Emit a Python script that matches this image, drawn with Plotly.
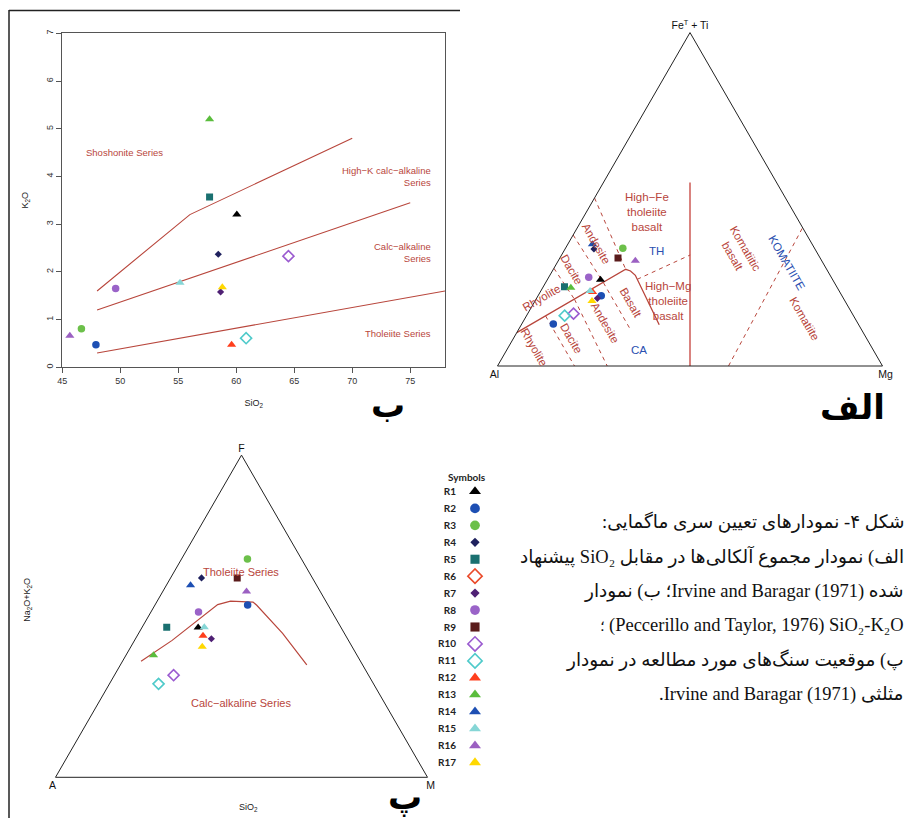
import math
import plotly.graph_objects as go

W, H = 913, 818

# ---------------- data ----------------
samples = ["R1", "R2", "R3", "R4", "R5", "R6", "R7", "R8", "R9",
           "R10", "R11", "R12", "R13", "R14", "R15", "R16", "R17"]

# Panel (ب): SiO2 - K2O  (None = not plotted)
k2o_sio2 = [60.05, 47.9, 46.65, 58.45, 57.7, None, 58.65, 49.6, None,
            64.5, 60.85, 59.6, 57.7, None, 55.15, 45.65, 58.8]
k2o_k2o = [3.2, 0.47, 0.81, 2.37, 3.57, None, 1.58, 1.65, None,
           2.33, 0.61, 0.47, 5.2, None, 1.77, 0.66, 1.68]

# Boundary lines (Peccerillo & Taylor)
shosh_sio2 = [48, 56, 70]
shosh_k2o = [1.6, 3.2, 4.8]
hik_sio2 = [48, 75]
hik_k2o = [1.2, 3.45]
thol_sio2 = [48, 78]
thol_k2o = [0.3, 1.6]

# Panel (الف): Jensen cation plot, %  (FeT+Ti, Al, Mg)
jensen_sample = ["R1", "R2", "R2", "R3", "R4", "R5", "R7", "R8", "R9",
                 "R10", "R11", "R12", "R13", "R14", "R15", "R16", "R17"]
jensen_fe = [25.9, 21.1, 12.6, 35.3, 35.1, 23.8, 20.3, 26.6, 32.4,
             15.7, 15.1, 22.2, 23.5, 36.5, 22.5, 31.6, 19.5]
jensen_al = [60.3, 62.5, 79.2, 49.8, 57.4, 70.7, 63.9, 63.0, 52.5,
             72.4, 75.0, 64.2, 69.2, 57.1, 64.7, 48.4, 65.7]
jensen_mg = [13.8, 16.4, 8.2, 14.9, 7.5, 5.5, 15.8, 10.4, 15.1,
             11.9, 9.9, 13.6, 7.3, 6.4, 12.8, 20.0, 14.8]

# Jensen field boundaries
j_thca_fe = [10.0, 29.0, 28.5, 27.2, 12.4]
j_thca_al = [90.0, 52.2, 51.2, 50.6, 51.8]
j_thca_mg = [0.0, 18.8, 20.3, 22.2, 35.8]
j_vert_fe = [0.0, 55.0]
j_vert_al = [50.0, 22.5]
j_vert_mg = [50.0, 22.5]
j_dash_fe = [29.3, 20.0, None, 39.3, 25.0, None, 50.4, 29.0, None,
             15.0, 0.0, None, 20.0, 0.0, None, 25.0, 10.5, None,
             26.0, 33.3, None, 0.0, 41.5]
j_dash_al = [70.7, 70.0, None, 60.7, 60.0, None, 49.6, 52.2, None,
             80.0, 80.0, None, 70.0, 71.5, None, 60.0, 60.0, None,
             50.7, 33.3, None, 40.0, 0.0]
j_dash_mg = [0.0, 10.0, None, 0.0, 15.0, None, 0.0, 18.8, None,
             5.0, 20.0, None, 10.0, 28.5, None, 15.0, 29.5, None,
             23.3, 33.4, None, 60.0, 58.5]

# Panel (پ): AFM, %  (F, A, M)
afm_f = [46.5, 53.5, 67.8, 61.9, 46.6, None, 43.0, 51.3, 61.9,
         31.7, 29.0, 43.9, 37.9, 59.6, 46.6, 57.7, 40.5]
afm_a = [38.4, 21.6, 14.5, 29.8, 46.8, None, 36.6, 35.9, 20.2,
         52.4, 57.8, 38.4, 54.7, 33.9, 36.7, 19.8, 40.3]
afm_m = [15.1, 24.9, 17.7, 8.3, 6.6, None, 20.4, 12.8, 17.9,
         15.9, 13.2, 17.7, 7.4, 6.5, 16.7, 22.5, 19.2]

afm_line_f = [36.0, 42.5, 53.6, 54.7, 54.4, 53.4, 44.7, 34.9]
afm_line_a = [59.0, 47.4, 29.6, 25.6, 19.7, 19.2, 16.6, 15.0]
afm_line_m = [5.0, 10.1, 16.8, 19.7, 25.9, 27.4, 38.7, 50.1]

xticks_sio2 = [45, 50, 55, 60, 65, 70, 75]
yticks_k2o = [0, 1, 2, 3, 4, 5, 6, 7]

# caption lines: (text, right-to-left paragraph?)
caption_lines = [
    ("شکل ۴- نمودارهای تعیین سری ماگمایی:", True),
    ("الف) نمودار مجموع آلکالی‌ها در مقابل SiO₂ پیشنهاد", True),
    ("شده Irvine and Baragar (1971)؛ ب) نمودار", True),
    ("(Peccerillo and Taylor, 1976) SiO₂-K₂O", False),
    ("پ) موقعیت سنگ‌های مورد مطالعه در نمودار", True),
    ("مثلثی Irvine and Baragar (1971)\u200e.", True),
]
caption_line4_end = "؛"

# ---------------- styles ----------------
STYLE = {
    "R1": ("triangle-up", "#000000", 8),
    "R2": ("circle", "#1d4fb3", 7.5),
    "R3": ("circle", "#6cc04a", 7.5),
    "R4": ("diamond", "#1f215e", 5.5),
    "R5": ("square", "#1a7070", 7),
    "R6": ("diamond-open", "#ea4a2a", 8.5),
    "R7": ("diamond", "#4f2074", 5.5),
    "R8": ("circle", "#9a63c8", 7.5),
    "R9": ("square", "#5a1b1b", 7),
    "R10": ("diamond-open", "#9b5bd0", 8.5),
    "R11": ("diamond-open", "#4fcaca", 8.5),
    "R12": ("triangle-up", "#ff3e1c", 8),
    "R13": ("triangle-up", "#5abd3c", 8),
    "R14": ("triangle-up", "#1d4fb3", 8),
    "R15": ("triangle-up", "#86d6d6", 8),
    "R16": ("triangle-up", "#9b60c2", 8),
    "R17": ("triangle-up", "#ffd800", 8),
}
RED = "#b8463c"
BLUE = "#2a4fb0"
SANS = "Liberation Sans, Arial, sans-serif"


def mk(name, scale=1.0):
    sym, col, size = STYLE[name]
    m = dict(symbol=sym, color=col, size=size * scale)
    if sym.endswith("open"):
        m["line"] = dict(width=1.6, color=col)
    else:
        m["line"] = dict(width=0)
    return m


def px(x, y):
    return x / W, 1 - y / H


fig = go.Figure()

# ---------- panel ب : SiO2-K2O ----------
for xs, ys in [(shosh_sio2, shosh_k2o), (hik_sio2, hik_k2o), (thol_sio2, thol_k2o)]:
    fig.add_trace(go.Scatter(x=xs, y=ys, mode="lines", line=dict(color=RED, width=1.1),
                             hoverinfo="skip", showlegend=False, xaxis="x", yaxis="y"))
for s, xv, yv in zip(samples, k2o_sio2, k2o_k2o):
    if xv is None:
        continue
    fig.add_trace(go.Scatter(x=[xv], y=[yv], mode="markers", marker=mk(s), name=s,
                             showlegend=False, xaxis="x", yaxis="y"))

# ---------- panel الف : Jensen ----------
fig.add_trace(go.Scatterternary(a=j_thca_fe, b=j_thca_al, c=j_thca_mg, mode="lines",
                                line=dict(color=RED, width=1.3), subplot="ternary", showlegend=False))
fig.add_trace(go.Scatterternary(a=j_vert_fe, b=j_vert_al, c=j_vert_mg, mode="lines",
                                line=dict(color="#cc5a55", width=1.5), subplot="ternary", showlegend=False))
fig.add_trace(go.Scatterternary(a=j_dash_fe, b=j_dash_al, c=j_dash_mg, mode="lines",
                                line=dict(color=RED, width=1, dash="4px,4px"), connectgaps=False,
                                subplot="ternary", showlegend=False))
for s, fe, al, mg in zip(jensen_sample, jensen_fe, jensen_al, jensen_mg):
    fig.add_trace(go.Scatterternary(a=[fe], b=[al], c=[mg], mode="markers", marker=mk(s),
                                    subplot="ternary", showlegend=False, name=s))

# ---------- panel پ : AFM ----------
fig.add_trace(go.Scatterternary(a=afm_line_f, b=afm_line_a, c=afm_line_m, mode="lines",
                                line=dict(color=RED, width=1.2), subplot="ternary2", showlegend=False))
for s, f, a, m in zip(samples, afm_f, afm_a, afm_m):
    if f is None:
        continue
    fig.add_trace(go.Scatterternary(a=[f], b=[a], c=[m], mode="markers", marker=mk(s),
                                    subplot="ternary2", showlegend=False, name=s))

# ---------- symbols key ----------
for s in samples:
    fig.add_trace(go.Scatter(x=[0], y=[s], mode="markers", marker=mk(s, 1.3),
                             xaxis="x2", yaxis="y2", showlegend=False))

# ---------------- layout ----------------
axis_common = dict(showline=True, linecolor="#555", linewidth=1, mirror=True, ticks="outside",
                   ticklen=5, tickcolor="#555", showgrid=False, zeroline=False,
                   tickfont=dict(family=SANS, size=9, color="#333"))

# ternary geometry (equilateral, fitted in domain)
T1 = dict(x0=497.5, yb=366.0, s=385.0)
T2 = dict(x0=55.5, yb=777.3, s=372.0)


def tern_domain(t):
    h = t["s"] * math.sqrt(3) / 2
    ytop, ybot = t["yb"] - h - 3, t["yb"] + 3
    return dict(x=[t["x0"] / W, (t["x0"] + t["s"]) / W], y=[1 - ybot / H, 1 - ytop / H])


def tern_pos(t, a, b, c):
    tot = a + b + c
    a, b, c = a / tot, b / tot, c / tot
    x = t["x0"] + t["s"] * (c + a / 2)
    y = t["yb"] - t["s"] * math.sqrt(3) / 2 * a
    return px(x, y)


def tern_axis(title, size):
    return dict(title=dict(text=title, font=dict(family=SANS, size=size, color="#111")),
                showticklabels=False, showgrid=False, ticks="", linecolor="#222",
                linewidth=1, showline=True, min=0)


layout = dict(
    width=W, height=H, margin=dict(l=0, r=0, t=0, b=0),
    paper_bgcolor="white", plot_bgcolor="white", template="none", showlegend=False,
    xaxis=dict(domain=[62.3 / W, 445 / W], range=[45, 78], tickvals=xticks_sio2, anchor="y",
               title=dict(text="SiO<sub>2</sub>", font=dict(family=SANS, size=9, color="#222"), standoff=14),
               **axis_common),
    yaxis=dict(domain=[1 - 367.3 / H, 1 - 33.3 / H], range=[0, 7], tickvals=yticks_k2o, tickangle=-90,
               anchor="x",
               title=dict(text="K<sub>2</sub>O", font=dict(family=SANS, size=9, color="#222"), standoff=14),
               **axis_common),
    xaxis2=dict(domain=[465 / W, 485 / W], range=[-1, 1], visible=False, anchor="y2"),
    yaxis2=dict(domain=[1 - 771 / H, 1 - 483 / H], type="category", categoryorder="array",
                categoryarray=samples, range=[16.5, -0.5], showgrid=False, zeroline=False,
                showline=False, ticks="", ticklabelstandoff=8, anchor="x2",
                tickfont=dict(family="Lato, Open Sans, sans-serif", size=10, color="#222", weight="bold")),
    ternary=dict(domain=tern_domain(T1), sum=100, bgcolor="white",
                 aaxis=tern_axis("Fe<sup>T</sup> + Ti", 10.5), baxis=tern_axis("Al", 10.5),
                 caxis=tern_axis("Mg", 10.5)),
    ternary2=dict(domain=tern_domain(T2), sum=100, bgcolor="white",
                  aaxis=tern_axis("F", 10.5), baxis=tern_axis("A", 10.5), caxis=tern_axis("M", 10.5)),
)
fig.update_layout(**layout)

ann = []


def add_text(x, y, text, size=11, color=RED, angle=0, family=SANS, xanchor="center",
             yanchor="middle", align="center", ref="paper", weight="normal"):
    ann.append(dict(x=x, y=y, xref="paper" if ref == "paper" else ref[0],
                    yref="paper" if ref == "paper" else ref[1], text=text, showarrow=False,
                    textangle=angle, xanchor=xanchor, yanchor=yanchor, align=align,
                    font=dict(family=family, size=size, color=color, weight=weight)))


# panel ب labels (data coords)
add_text(50.33, 4.5, "Shoshonite Series", 9.5, ref=("x", "y"))
add_text(77.0, 4.0, "High−K calc−alkaline<br>Series", 9.5, ref=("x", "y"), xanchor="right", align="right")
add_text(77.0, 2.4, "Calc−alkaline<br>Series", 9.5, ref=("x", "y"), xanchor="right", align="right")
add_text(77.0, 0.7, "Tholeiite Series", 9.5, ref=("x", "y"), xanchor="right", align="right")

# panel الف labels (placed from ternary coordinates: Fe, Al, Mg)
jensen_labels = [
    ("High−Fe<br>tholeiite<br>basalt", (46.2, 38.0, 15.8), 0, RED),
    ("TH", (34.6, 41.5, 23.9), 0, BLUE),
    ("High−Mg<br>tholeiite<br>basalt", (19.5, 45.9, 34.6), 0, RED),
    ("CA", (4.7, 61.0, 34.3), 0, BLUE),
    ("Komatiitic<br>basalt", (34.1, 20.2, 45.7), 60, RED),
    ("KOMATIITE", (30.9, 9.4, 59.7), 60, BLUE),
    ("Komatiite", (14.0, 13.3, 72.7), 60, RED),
    ("Andesite", (36.7, 55.9, 7.4), 60, RED),
    ("Dacite", (28.8, 66.3, 4.9), 60, RED),
    ("Rhyolite", (20.3, 78.4, 1.3), -30, RED),
    ("Andesite", (13.0, 65.5, 21.5), 60, RED),
    ("Dacite", (8.2, 76.6, 15.2), 60, RED),
    ("Rhyolite", (5.6, 87.8, 6.6), 60, RED),
    ("Basalt", (18.8, 56.0, 25.2), 60, RED),
]
for txt, (a, b, c), ang, col in jensen_labels:
    x, y = tern_pos(T1, a, b, c)
    add_text(x, y, txt, 11.5, color=col, angle=ang)

# panel پ labels (F, A, M)
for txt, (a, b, c) in [("Tholeiite Series", (63.7, 18.3, 18.0)),
                       ("Calc−alkaline Series", (23.0, 38.6, 38.4))]:
    x, y = tern_pos(T2, a, b, c)
    add_text(x, y, txt, 11)

x, y = px(26.7, 600)
add_text(x, y, "Na<sub>2</sub>O+K<sub>2</sub>O", 9, color="#222", angle=-90)
x, y = px(249, 807)
add_text(x, y, "SiO<sub>2</sub>", 9, color="#222")

# symbols key title
x, y = px(446, 477)
add_text(x, y, "Symbols", 10, color="#222", family="Lato, Open Sans, sans-serif", xanchor="left",
         weight="bold")

# panel letters
PERS = "DejaVu Sans, Noto Sans, sans-serif"
for txt, (xx, yy) in [("الف", (852, 407)), ("ب", (388, 405)), ("پ", (405, 797))]:
    x, y = px(xx, yy)
    add_text(x, y, txt, 34, color="#000", family=PERS, weight="bold")

# caption
CAPF = "Liberation Serif, DejaVu Sans, serif"
cap_y = [522, 556.5, 591, 625, 659.5, 694]
for (line, rtl), yy in zip(caption_lines, cap_y):
    x, y = px(906, yy)
    txt = "\u202b" + line + "\u202c" if rtl else line
    add_text(x, y, txt, 18.5, color="#111", family=CAPF, xanchor="right", align="right")
x, y = px(607, cap_y[3] + 1)
add_text(x, y, caption_line4_end, 15, color="#111", family="DejaVu Sans", xanchor="right")

fig.update_layout(annotations=ann)

# frame lines of the page
fig.add_shape(type="line", xref="paper", yref="paper", x0=9 / W, x1=9 / W, y0=0, y1=1 - 10 / H,
              line=dict(color="#222", width=1.5))
fig.add_shape(type="line", xref="paper", yref="paper", x0=9 / W, x1=460 / W, y0=1 - 10.5 / H,
              y1=1 - 10.5 / H, line=dict(color="#222", width=1.5))

fig.write_html("out.html", config={"displayModeBar": False},
               post_script="document.body.style.margin='0';")
